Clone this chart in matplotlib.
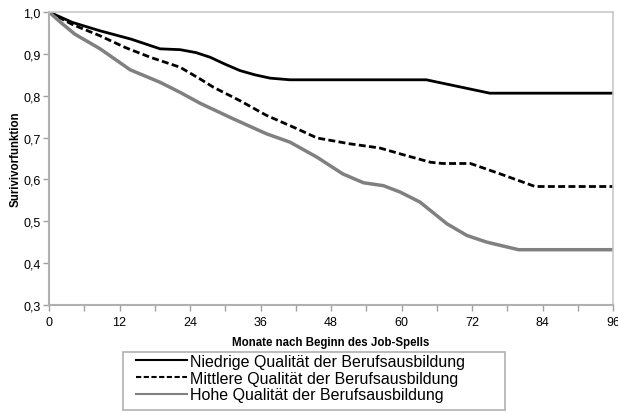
import matplotlib
matplotlib.use('Agg')
import matplotlib.pyplot as plt
from matplotlib.patches import Rectangle

plt.rcParams['font.family'] = ['Liberation Sans', 'DejaVu Sans']

# Survivorfunktion nach Qualität der Berufsausbildung
monate_niedrig = [0, 4, 8.7, 14, 18.9, 22.3, 25, 27.4, 30, 32.5, 35, 37.6, 41, 64.2, 75, 96]
niedrig = [1.0, 0.975, 0.955, 0.935, 0.912, 0.91, 0.903, 0.892, 0.875, 0.86, 0.85, 0.842,
           0.838, 0.838, 0.806, 0.806]

monate_mittel = [0, 4, 8.7, 13, 17.2, 22.3, 25.7, 28, 32.5, 37, 42.2, 45.6, 51.2, 56.3,
                 60, 64.9, 67, 71.7, 76.8, 82.7, 96]
mittel = [1.0, 0.97, 0.943, 0.915, 0.892, 0.868, 0.84, 0.82, 0.788, 0.753, 0.721, 0.699,
          0.685, 0.675, 0.66, 0.641, 0.638, 0.638, 0.613, 0.583, 0.583]

monate_hoch = [0, 2, 4.4, 8.7, 13.8, 18.9, 22.3, 25.7, 31.3, 37, 41, 45.6, 50, 53.5, 56.9,
               59.7, 63.1, 67.7, 71.1, 74.5, 79.9, 96]
hoch = [1.0, 0.975, 0.947, 0.912, 0.862, 0.832, 0.808, 0.782, 0.745, 0.709, 0.689, 0.653,
        0.613, 0.592, 0.585, 0.57, 0.546, 0.494, 0.466, 0.45, 0.432, 0.432]

labels = ['Niedrige Qualität der Berufsausbildung',
          'Mittlere Qualität der Berufsausbildung',
          'Hohe Qualität der Berufsausbildung']

x_ticks = list(range(0, 97, 12))
y_ticks = [0.3, 0.4, 0.5, 0.6, 0.7, 0.8, 0.9, 1.0]

W, H = 618, 414
fig = plt.figure(figsize=(W / 100, H / 100), dpi=100)
ax = fig.add_axes([0.0793, 0.261, 0.913, 0.7076])

ax.plot(monate_niedrig, niedrig, color='black', lw=2.0, label=labels[0])
ax.plot(monate_mittel, mittel, color='black', lw=2.0, ls=(0, (2.5, 1.2)), label=labels[1])
ax.plot(monate_hoch, hoch, color='#808080', lw=2.5, label=labels[2])

ax.set_xlim(0, 96)
ax.set_ylim(0.3, 1.0)
ax.set_xticks(x_ticks)
ax.set_xticks(range(0, 97, 6), minor=True)
ax.set_yticks(y_ticks)
ax.set_yticklabels([f'{v:.1f}'.replace('.', ',') for v in y_ticks])
ax.tick_params(axis='both', which='both', colors='#a0a0a0', labelcolor='black',
               labelsize=9, length=4, width=1)
ax.tick_params(axis='x', pad=4)
ax.tick_params(axis='y', pad=2)

for side in ['left', 'bottom']:
    ax.spines[side].set_color('#b0b0b0')
    ax.spines[side].set_linewidth(1.5)
for side in ['top', 'right']:
    ax.spines[side].set_color('#c8c8c8')
    ax.spines[side].set_linewidth(1.2)

ax.set_xlabel('Monate nach Beginn des Job-Spells', fontsize=8.3, fontweight='bold', labelpad=6)
ax.set_ylabel('Surivivorfunktion', fontsize=8.3, fontweight='bold', labelpad=1)

# Legende mit festem Rahmen wie im Original
leg = fig.legend(loc='upper left', bbox_to_anchor=(136 / W, 1 - 355 / H), fontsize=11.5,
                 handlelength=3.2, handletextpad=0.2, labelspacing=0.1,
                 borderpad=0, borderaxespad=0, frameon=False)
for line in leg.get_lines():
    line.set_linewidth(1.5)
fig.add_artist(Rectangle((123 / W, 1 - 411 / H), (505 - 123) / W, (411 - 353) / H,
                         transform=fig.transFigure, facecolor='none',
                         edgecolor='#b0b0b0', linewidth=1.2))

fig.savefig('out.png', dpi=100, facecolor='white')
